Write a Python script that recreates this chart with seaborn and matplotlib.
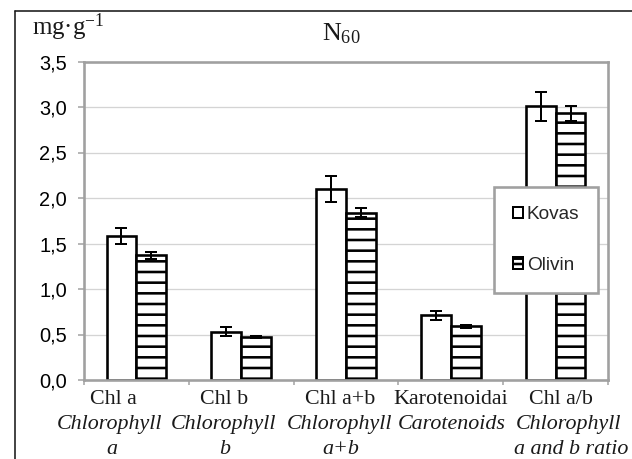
import numpy as np
import pandas as pd
import matplotlib
matplotlib.use("Agg")
import matplotlib.pyplot as plt
import seaborn as sns
from matplotlib.patches import Patch
from matplotlib.lines import Line2D
from matplotlib.ticker import FuncFormatter

# ---- data -------------------------------------------------------------
categories = ["Chl a", "Chl b", "Chl a+b", "Karotenoidai", "Chl a/b"]
english_names = [["Chlorophyll", "a"], ["Chlorophyll", "b"], ["Chlorophyll", "a+b"],
                 ["Carotenoids"], ["Chlorophyll", "a and b ratio"]]
varieties = ["Kovas", "Olivin"]
kovas = [1.58, 0.53, 2.10, 0.71, 3.01]
kovas_err = [0.09, 0.05, 0.14, 0.05, 0.16]
olivin = [1.37, 0.47, 1.84, 0.59, 2.93]
olivin_err = [0.04, 0.01, 0.05, 0.015, 0.08]
y_ticks = [0.0, 0.5, 1.0, 1.5, 2.0, 2.5, 3.0, 3.5]

# ---- sizing helpers (figure is 632 x 459 px) --------------------------
DPI = 64
W, H = 632, 459


def pt(px):
    return px * 72 / DPI


sns.set_theme(style="white")
plt.rcParams["font.family"] = ["Liberation Sans", "DejaVu Sans"]
plt.rcParams["hatch.linewidth"] = pt(2.6)
plt.rcParams["hatch.color"] = "black"
plt.rcParams["mathtext.fontset"] = "custom"
plt.rcParams["mathtext.rm"] = "Liberation Serif"
plt.rcParams["mathtext.it"] = "Liberation Serif:italic"

SERIF = ["Liberation Serif", "DejaVu Serif"]
GRAY = "#a0a0a0"

df = pd.DataFrame({
    "category": categories * 2,
    "variety": [varieties[0]] * len(categories) + [varieties[1]] * len(categories),
    "value": kovas + olivin,
})

fig = plt.figure(figsize=(W / DPI, H / DPI), dpi=DPI)
fig.patch.set_facecolor("white")
ax = fig.add_axes([84 / W, 1 - 380 / H, 524 / W, 318.5 / H])

sns.barplot(data=df, x="category", y="value", hue="variety",
            order=categories, hue_order=varieties,
            palette=["white", "white"], saturation=1, width=0.57, gap=0,
            errorbar=None, edgecolor="black", linewidth=pt(2.6),
            legend=False, ax=ax)

# horizontal hatching for the second variety
for bar in ax.containers[1]:
    bar.set_hatch("-")
    bar.set_edgecolor("black")

# error bars placed on the drawn bars
for cont, errs in zip(ax.containers, [kovas_err, olivin_err]):
    xs = [b.get_x() + b.get_width() / 2 for b in cont]
    ys = [b.get_height() for b in cont]
    ax.errorbar(xs, ys, yerr=errs, fmt="none", ecolor="black",
                elinewidth=pt(2), capsize=pt(6), capthick=pt(2), zorder=5)

# ---- axes styling -----------------------------------------------------
ax.set_ylim(0, 3.5)
ax.set_yticks(y_ticks)
ax.yaxis.set_major_formatter(FuncFormatter(lambda v, _: f"{v:.1f}".replace(".", ",")))
ax.set_xlim(-0.5, len(categories) - 0.5)
ax.set_xticks(range(len(categories)))
ax.set_xticklabels([])
ax.set_xticks(np.arange(-0.5, len(categories), 1.0), minor=True)
ax.set_xlabel("")
ax.set_ylabel("")

ax.yaxis.grid(True, color="#d4d4d4", linewidth=pt(1.3))
ax.set_axisbelow(True)
for s in ax.spines.values():
    s.set_visible(True)
    s.set_color(GRAY)
    s.set_linewidth(pt(2.6))

ax.tick_params(axis="y", which="major", direction="out", left=True,
               length=pt(6), width=pt(1.5), color=GRAY,
               labelsize=pt(20), labelcolor="black", pad=pt(11))
ax.tick_params(axis="x", which="major", length=0)
ax.tick_params(axis="x", which="minor", direction="out", bottom=True,
               length=pt(5), width=pt(1.5), color=GRAY)

# ---- category labels (Lithuanian + English italic) --------------------
xtr = ax.get_xaxis_transform()
label_x = [[-0.22, -0.26, -0.23], [-0.16, -0.17, -0.16], [-0.06, -0.06, -0.05],
           [0.0, 0.01], [0.05, 0.12, 0.15]]
row_base = [404, 429, 453.5]


def ax_y(py):
    return (380 - py) / 318.5


for i, (lt, en) in enumerate(zip(categories, english_names)):
    ax.text(i + label_x[i][0], ax_y(row_base[0]), lt, transform=xtr,
            ha="center", va="baseline", fontsize=pt(22), family=SERIF,
            color="#1a1a1a", clip_on=False)
    for j, line in enumerate(en):
        ax.text(i + label_x[i][j + 1], ax_y(row_base[j + 1]), line, transform=xtr,
                ha="center", va="baseline", fontsize=pt(22), family=SERIF,
                style="italic", color="#1a1a1a", clip_on=False)

# ---- unit and title ---------------------------------------------------
fig.text(32 / W, 1 - 35 / H, r"mg·g$^{-1}$", ha="left", va="baseline",
         fontsize=pt(25), family=SERIF, color="#1a1a1a")
fig.text(322 / W, 1 - 40 / H, r"N$_{60}$", ha="left", va="baseline",
         fontsize=pt(26), family=SERIF, color="#1a1a1a")

# ---- legend -----------------------------------------------------------
handles = [Patch(facecolor="white", edgecolor="black", linewidth=pt(2), label=varieties[0]),
           Patch(facecolor="white", edgecolor="black", linewidth=pt(2), hatch="--",
                 label=varieties[1])]
leg = ax.legend(handles=handles, loc="center",
                bbox_to_anchor=(404 / 524, 89 / 318.5, 116 / 524, 102 / 318.5),
                borderaxespad=0, fontsize=pt(19), handlelength=0.55, handleheight=0.55,
                handletextpad=0.2, labelspacing=1.75, borderpad=1.0,
                fancybox=False, framealpha=1, facecolor="white", edgecolor=GRAY)
leg.get_frame().set_linewidth(pt(2.6))

# ---- outer frame ------------------------------------------------------
fig.add_artist(Line2D([14.5 / W, 14.5 / W], [0, 1 - 10.5 / H], transform=fig.transFigure,
                      color="#1a1a1a", linewidth=pt(1.6)))
fig.add_artist(Line2D([14.5 / W, 1], [1 - 10.5 / H, 1 - 10.5 / H], transform=fig.transFigure,
                      color="#1a1a1a", linewidth=pt(1.6)))

fig.savefig("out.png", dpi=DPI, facecolor="white")
